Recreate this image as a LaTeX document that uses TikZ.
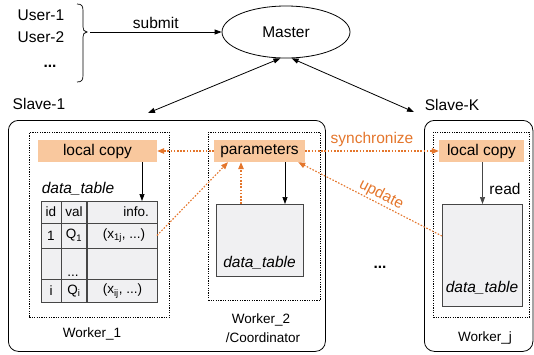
\documentclass[tikz,border=0pt]{standalone}
\usepackage{fontspec}
\setmainfont{Liberation Sans}
\usetikzlibrary{shapes.geometric,arrows.meta,calc}
\definecolor{orng}{RGB}{228,118,44}
\definecolor{peach}{RGB}{249,200,158}
\definecolor{tgray}{RGB}{240,240,242}
\definecolor{lgray}{RGB}{70,70,70}
\newcommand\fsz[1]{\fontsize{#1}{#1}\selectfont}
\tikzset{
  txt/.style={inner sep=0pt, font=\fsz{15.5}},
  small/.style={inner sep=0pt, font=\fsz{13.5}},
  arr/.style={-{Triangle[length=7pt,width=5pt]}, line width=0.8pt},
  darr/.style={{Triangle[length=7pt,width=5pt]}-{Triangle[length=7pt,width=5pt]}, line width=0.8pt},
  oarr/.style={-{Triangle[length=7pt,width=5.5pt]}, orng, line width=1.1pt, dash pattern=on 1.6pt off 1.6pt},
  slavebox/.style={draw, rounded corners=10pt, line width=0.8pt, anchor=north west, inner sep=0pt},
  workerbox/.style={draw, line width=0.9pt, dash pattern=on 1.2pt off 1.2pt, anchor=north west, inner sep=0pt},
  copybox/.style={fill=peach, inner sep=0pt, font=\fsz{15.5}},
  dtbox/.style={draw=lgray, fill=tgray, line width=0.8pt, anchor=north west, inner sep=0pt},
}
\begin{document}
\begin{tikzpicture}[x=1pt,y=-1pt]
\useasboundingbox (0,0) rectangle (534,354);

% users
\node[txt] (u1) at (41,15) {User-1};
\node[txt] (u2) at (41,37) {User-2};
\node[txt, anchor=base] (ud) at (50,67) {\textbf{...}};
\draw[line width=0.7pt] (77,4) .. controls (82,4) and (83,6) .. (83,11) -- (83,27)
  .. controls (83,30) and (84,31.5) .. (87,32) .. controls (84,32.5) and (83,34) .. (83,37)
  -- (83,75) .. controls (83,80) and (82,82) .. (77,82);
\coordinate (bt) at (90,32);

% master
\node[draw, ellipse, line width=0.8pt, minimum width=128pt, minimum height=52pt, font=\fsz{15.5}] (master) at (286,32) {Master};
\draw[arr] (bt) -- (master.west) node[midway, above=3pt, txt] {submit};

% slave boxes
\node[slavebox, minimum width=317pt, minimum height=231pt] (s1) at (8,120) {};
\node[slavebox, minimum width=108.5pt, minimum height=231pt] (sk) at (424,120) {};
\node[txt] (s1l) at (39,104) {Slave-1};
\node[txt] (skl) at (452,105) {Slave-K};
\coordinate (s1a) at (148,113);
\coordinate (ska) at (414,112);
\draw[darr] (s1a) -- (master.258);
\draw[darr] (ska) -- (master.282);

% worker 1
\node[workerbox, minimum width=140pt, minimum height=185pt] (w1) at (29,132) {};
\node[small] (w1l) at (92,334) {Worker\_1};
\node[copybox, minimum width=119pt, minimum height=22pt] (lc1) at (97.5,151) {local copy};
\node[txt, font=\fsz{15.5}\itshape] (dt1) at (78,189) {data\_table};
\node[dtbox, minimum width=116pt, minimum height=101pt] (tab) at (41,201) {};
\draw[lgray, line width=0.8pt] (61,201) -- (61,302);
\draw[lgray, line width=1.1pt] (87,201) -- (87,302);
\draw[lgray, line width=0.8pt] (41,223) -- (157,223);
\draw[lgray, line width=0.8pt] (41,248) -- (157,248);
\draw[lgray, line width=0.8pt] (41,279) -- (157,279);
\node[small] (h1) at (51,212) {id};
\node[small] (h2) at (74,212) {val};
\node[small, anchor=east] (h3) at (149,212) {info.};
\node[small] (a1) at (51,235.5) {1};
\node[small] (a2) at (74,235.5) {Q\textsubscript{1}};
\node[small] (a3) at (124,235.5) {(x\textsubscript{1j}, ...)};
\node[small, anchor=base] (b2) at (73,276) {...};
\node[small] (c1) at (51,291) {i};
\node[small] (c2) at (74,291) {Q\textsubscript{i}};
\node[small] (c3) at (122.5,291) {(x\textsubscript{ij}, ...)};
\coordinate (r1e) at (157,235.5);
\draw[arr, line width=0.7pt] ([xshift=44.5pt]lc1.south) -- ([xshift=44.5pt]lc1.south |- tab.north);

% worker 2
\node[workerbox, minimum width=112pt, minimum height=168pt] (w2) at (208,132) {};
\node[small] (w2l) at (261,320) {Worker\_2};
\node[small] (w2c) at (263,338) {/Coordinator};
\node[copybox, minimum width=91pt, minimum height=22pt] (par) at (259.5,151) {parameters};
\node[dtbox, minimum width=87pt, minimum height=72pt] (dt2) at (216,204) {};
\node[txt, font=\fsz{15.5}\itshape] (dt2l) at (259.5,263) {data\_table};
\draw[arr, line width=0.7pt] ([xshift=25.5pt]par.south) -- ([xshift=25.5pt]par.south |- dt2.north);

% worker j
\node[workerbox, minimum width=96pt, minimum height=185pt] (wj) at (433,132) {};
\node[small] (wjl) at (485,338) {Worker\_j};
\node[copybox, minimum width=85pt, minimum height=22pt] (lck) at (481.5,151) {local copy};
\node[dtbox, minimum width=80pt, minimum height=102pt] (dtk) at (442,204) {};
\node[txt, font=\fsz{15.5}\itshape] (dtkl) at (482,288) {data\_table};
\draw[arr, lgray, line width=0.7pt] ([xshift=1pt]lck.south) -- ([xshift=1pt]lck.south |- dtk.north);
\node[txt] (read) at (505,189) {read};
\coordinate (dke) at (442,236);

% orange connectors
\draw[oarr] (par.west) -- (lc1.east);
\draw[oarr] (r1e) -- ([xshift=-31.5pt]par.south);
\draw[oarr] ([xshift=-18.5pt]par.south |- dt2.north) -- ([xshift=-18.5pt]par.south);
\draw[oarr] (par.east) -- (lck.west) node[midway, above=4pt, txt, orng] {synchronize};
\draw[oarr] (dke) -- ([xshift=-7pt]par.south east) node[pos=0.45, sloped, above=1pt, txt, orng] {update};

\node[txt, anchor=base] (dots) at (380,268) {\textbf{...}};
\end{tikzpicture}
\end{document}
